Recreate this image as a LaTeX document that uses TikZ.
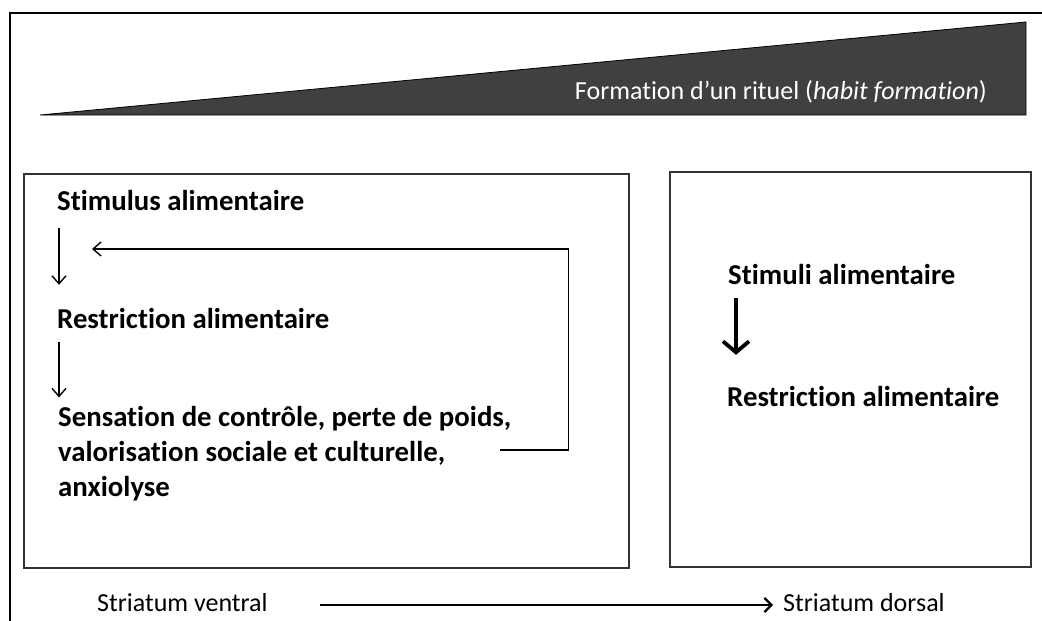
\documentclass[tikz,border=0pt]{standalone}
\usepackage{fontspec}
\setmainfont{Carlito}[Ligatures=NoCommon]
\usetikzlibrary{arrows.meta}
\definecolor{ritual}{HTML}{404040}
\definecolor{frame}{HTML}{333333}
\tikzset{
	box/.style={draw=frame, line width=1.4pt},
	step label/.style={font=\bfseries\fontsize{28.8}{35}\selectfont, inner sep=0, anchor=west, align=left},
	one line/.style={text height=20pt, text depth=6pt},
	plain label/.style={font=\fontsize{26}{30}\selectfont, inner sep=0, anchor=west, text height=18pt, text depth=5pt},
	thin arrow/.style={line width=1.4pt, -{Straight Barb[length=8pt,width=14pt]}},
	bold arrow/.style={line width=3.8pt, -{Straight Barb[length=11pt,width=26pt]}}
}
\begin{document}
\begin{tikzpicture}[x=1pt, y=-1pt]
	\useasboundingbox (0,0) rectangle (1042,621);
	\draw[line width=1.5pt] (1050,13) -- (10,13) -- (10,630);
	\fill[ritual, draw=black, line width=0.8pt] (40,115) -- (1026,22) -- (1026,115) -- cycle;
	\node (habit) [anchor=east, inner sep=0, text=white, font=\fontsize{26}{30}\selectfont] at (987,92) {Formation d’un rituel (\textit{habit formation})};

	\draw[box] (24,174) rectangle (629,568);
	\draw[box] (670,172) rectangle (1031,567);

	\node (stimulus) [step label, one line] at (57,203) {Stimulus alimentaire};
	\node (restriction) [step label, one line] at (57,321) {Restriction alimentaire};
	\node (sensation) [step label] at (58,454) {Sensation de contrôle, perte de poids,\\valorisation sociale et culturelle,\\anxiolyse};
	\coordinate (back) at (92,249);

	\node (stimuli) [step label, one line] at (728,277) {Stimuli alimentaire};
	\node (habitual) [step label, one line] at (727,399) {Restriction alimentaire};

	\node (ventral) [plain label] at (97,605) {Striatum ventral};
	\node (dorsal) [plain label] at (783,605) {Striatum dorsal};

	\draw[thin arrow, shorten <=12pt, shorten >=23pt] ([xshift=2pt]stimulus.south west) -- ([xshift=2pt]restriction.north west);
	\draw[thin arrow, shorten <=8pt, shorten >=9pt] ([xshift=2pt]restriction.south west) -- ([xshift=1pt]sensation.north west);
	\draw[thin arrow] ([shift={(-11pt,4pt)}]sensation.east) -- ++(68,0) |- (back);
	\draw[bold arrow, shorten <=8pt, shorten >=31pt] ([xshift=8pt]stimuli.south west) -- ([xshift=9pt]habitual.north west);
	\draw[line width=2.2pt, -{Straight Barb[length=7pt,width=14pt]}] ([xshift=52pt]ventral.east) -- ([xshift=-10pt]dorsal.west);
\end{tikzpicture}
\end{document}
